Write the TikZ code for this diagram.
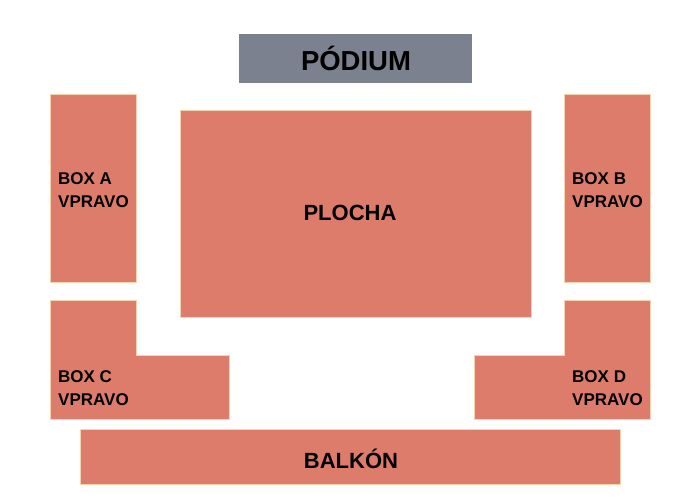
\documentclass[tikz,border=0pt]{standalone}
\usepackage{fontspec}
\setmainfont{Liberation Sans}
\definecolor{seat}{HTML}{DE7C6B}
\definecolor{rim}{HTML}{F6D2AE}
\definecolor{stage}{HTML}{7B818E}
\tikzset{
  block/.style={fill=seat,draw=rim,line width=0.8pt},
  lbl/.style={font=\bfseries\fontsize{17}{23}\selectfont,align=left,anchor=west,inner sep=0pt}
}
\begin{document}
\begin{tikzpicture}[x=1pt,y=-1pt]
			\useasboundingbox[fill=white] (0,0) rectangle (700,500);
			
			\fill[stage] (239,34) rectangle (472,83);
			\node (podium) at (356,58) {\bfseries\fontsize{27.5}{30}\selectfont PÓDIUM};
			
			\draw[block] (50,94) rectangle (136,282);
			\draw[block] (564,94) rectangle (650,282);
			\draw[block] (180,110) rectangle (531,317);
			\draw[block] (50,300) -- (136,300) -- (136,355) -- (229,355) -- (229,419) -- (50,419) -- cycle;
			\draw[block] (650,300) -- (564,300) -- (564,355) -- (474,355) -- (474,419) -- (650,419) -- cycle;
			\draw[block] (80,429) rectangle (620,484);
			
			\node (plocha) at (350,213) {\bfseries\fontsize{22}{24}\selectfont PLOCHA};
			\node (balkon) at (351,459) {\bfseries\fontsize{22}{24}\selectfont BALKÓN};
			
			\node[lbl] (boxa) at (58,190) {BOX A\\VPRAVO};
			\node[lbl] (boxb) at (572,190) {BOX B\\VPRAVO};
			\node[lbl] (boxc) at (58,388) {BOX C\\VPRAVO};
			\node[lbl] (boxd) at (572,388) {BOX D\\VPRAVO};
		\end{tikzpicture}
\end{document}
